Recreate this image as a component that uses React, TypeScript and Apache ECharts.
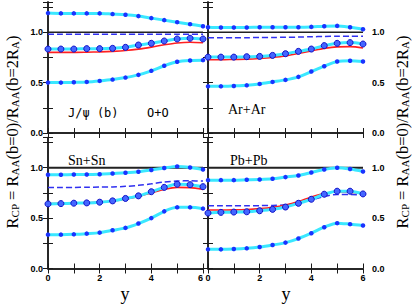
import React, { useEffect, useRef } from "react";
import * as echarts from "echarts";

const Y_POS = [0, 0.5, 1, 1.5, 2, 2.5, 3, 3.5, 4, 4.5, 5, 5.5, 6];

const OO_UPPER = [1.19, 1.187, 1.187, 1.187, 1.187, 1.18, 1.173, 1.16, 1.14, 1.12, 1.1, 1.08, 1.06];
const OO_MID = [0.833, 0.833, 0.833, 0.837, 0.837, 0.84, 0.85, 0.873, 0.89, 0.913, 0.933, 0.94, 0.933];
const OO_LOW = [0.5, 0.5, 0.503, 0.507, 0.517, 0.53, 0.55, 0.577, 0.617, 0.667, 0.707, 0.72, 0.723];
const OO_RED = [0.8, 0.8, 0.8, 0.802, 0.805, 0.81, 0.818, 0.832, 0.852, 0.875, 0.893, 0.9, 0.895];
const OO_DASH = [0.98, 0.98, 0.98, 0.98, 0.98, 0.98, 0.98, 0.98, 0.98, 0.98, 0.98, 0.98, 0.98];

const AR_UPPER = [1.05, 1.047, 1.047, 1.047, 1.05, 1.05, 1.05, 1.05, 1.053, 1.06, 1.063, 1.05, 1.03];
const AR_MID = [0.753, 0.753, 0.753, 0.757, 0.76, 0.77, 0.787, 0.81, 0.833, 0.867, 0.89, 0.897, 0.883];
const AR_LOW = [0.463, 0.463, 0.467, 0.473, 0.487, 0.507, 0.527, 0.557, 0.61, 0.663, 0.71, 0.717, 0.71];
const AR_RED = [0.727, 0.727, 0.73, 0.733, 0.74, 0.75, 0.765, 0.79, 0.815, 0.84, 0.855, 0.857, 0.843];
const AR_DASH = [0.945, 0.945, 0.945, 0.946, 0.947, 0.948, 0.95, 0.952, 0.955, 0.958, 0.96, 0.96, 0.96];

const SN_UPPER = [0.93, 0.93, 0.933, 0.933, 0.936, 0.943, 0.95, 0.96, 0.977, 0.997, 1.013, 1.003, 0.983];
const SN_MID = [0.641, 0.644, 0.648, 0.651, 0.658, 0.671, 0.695, 0.721, 0.762, 0.805, 0.836, 0.832, 0.812];
const SN_LOW = [0.336, 0.336, 0.339, 0.346, 0.356, 0.379, 0.403, 0.446, 0.5, 0.567, 0.607, 0.607, 0.594];
const SN_RED = [0.645, 0.645, 0.648, 0.652, 0.66, 0.67, 0.688, 0.715, 0.75, 0.785, 0.805, 0.803, 0.785];
const SN_DASH = [0.805, 0.805, 0.805, 0.806, 0.808, 0.81, 0.815, 0.825, 0.84, 0.858, 0.868, 0.87, 0.868];

const PB_UPPER = [0.877, 0.877, 0.877, 0.88, 0.883, 0.89, 0.907, 0.923, 0.953, 0.983, 1.0, 0.987, 0.963];
const PB_MID = [0.55, 0.557, 0.56, 0.563, 0.573, 0.587, 0.61, 0.647, 0.687, 0.737, 0.767, 0.767, 0.74];
const PB_LOW = [0.19, 0.19, 0.193, 0.2, 0.213, 0.233, 0.257, 0.297, 0.35, 0.41, 0.45, 0.44, 0.427];
const PB_RED = [0.58, 0.58, 0.582, 0.586, 0.594, 0.607, 0.63, 0.665, 0.71, 0.745, 0.762, 0.757, 0.74];
const PB_DASH = [0.623, 0.623, 0.623, 0.623, 0.624, 0.626, 0.632, 0.65, 0.68, 0.715, 0.735, 0.735, 0.728];

const REFERENCE = 1.0;

const PANELS = [
  { upper: OO_UPPER, mid: OO_MID, low: OO_LOW, red: OO_RED, dash: OO_DASH },
  { upper: AR_UPPER, mid: AR_MID, low: AR_LOW, red: AR_RED, dash: AR_DASH },
  { upper: SN_UPPER, mid: SN_MID, low: SN_LOW, red: SN_RED, dash: SN_DASH },
  { upper: PB_UPPER, mid: PB_MID, low: PB_LOW, red: PB_RED, dash: PB_DASH },
];

const GRIDS = [
  { left: 48, top: 2, width: 155, height: 131 },
  { left: 208, top: 2, width: 155, height: 131 },
  { left: 48, top: 137.5, width: 155, height: 131 },
  { left: 208, top: 137.5, width: 155, height: 131 },
];

const CYAN = "#3ae8ff";
const BLUE = "#1a33ff";
const AXIS_COLOR = "#1a1a1a";

export default function App() {
  const ref = useRef<HTMLDivElement>(null);
  useEffect(() => {
    document.body.style.margin = "0";
    if (!ref.current) return;
    const chart = echarts.init(ref.current, null, { renderer: "svg" });

    const labelFont = {
      fontSize: 9,
      fontWeight: "bold" as const,
      fontFamily: "Liberation Sans, Arial, sans-serif",
      color: "#000",
    };

    const xAxes: any[] = [];
    const yAxes: any[] = [];
    const series: any[] = [];
    const zip = (arr: number[]) => Y_POS.map((x, i) => [x, arr[i]]);

    GRIDS.forEach((_, gi) => {
      const isBottom = gi >= 2;
      const isRight = gi % 2 === 1;
      const baseX = {
        gridIndex: gi,
        type: "value",
        min: 0,
        max: 6,
        interval: 1,
        axisLine: { show: true, lineStyle: { color: AXIS_COLOR, width: 1.5 } },
        axisTick: { show: true, inside: true, length: 5, lineStyle: { color: AXIS_COLOR, width: 1 } },
        splitLine: { show: false },
      };
      xAxes.push({
        ...baseX,
        position: "bottom",
        axisLabel: {
          show: isBottom,
          ...labelFont,
          margin: 5,
          formatter: (v: number) => (v % 2 === 0 ? String(v) : ""),
          alignMaxLabel: isRight ? "center" : "right",
        },
      });
      xAxes.push({ ...baseX, position: "top", axisLabel: { show: false } });

      const baseY = {
        gridIndex: gi,
        type: "value",
        min: 0,
        max: 1.3,
        interval: 0.25,
        axisLine: { show: true, lineStyle: { color: AXIS_COLOR, width: 1.5 } },
        axisTick: { show: true, inside: true, length: 5, lineStyle: { color: AXIS_COLOR, width: 1 } },
        splitLine: { show: false },
      };
      const fmt = (v: number) =>
        Math.abs(v * 2 - Math.round(v * 2)) < 1e-6 ? v.toFixed(1) : "";
      yAxes.push({
        ...baseY,
        position: "left",
        axisLabel: { show: !isRight, ...labelFont, margin: 5, formatter: fmt },
      });
      yAxes.push({
        ...baseY,
        position: "right",
        axisLabel: { show: isRight, ...labelFont, margin: 9, formatter: fmt },
      });

      const p = PANELS[gi];
      const xi = gi * 2;
      const yi = gi * 2;
      series.push({
        type: "line",
        xAxisIndex: xi,
        yAxisIndex: yi,
        data: Y_POS.map((x) => [x, REFERENCE]),
        symbol: "none",
        lineStyle: { color: "#222", width: isBottom ? 1.8 : 1.3 },
        z: 1,
      });
      series.push({
        type: "line",
        xAxisIndex: xi,
        yAxisIndex: yi,
        data: zip(p.dash),
        smooth: 0.3,
        symbol: "none",
        lineStyle: { color: "#3030f0", width: 1.5, type: [6, 3] },
        z: 2,
      });
      series.push({
        type: "line",
        xAxisIndex: xi,
        yAxisIndex: yi,
        data: zip(p.red),
        smooth: 0.3,
        symbol: "none",
        lineStyle: { color: "#ff2020", width: 1.6 },
        z: 3,
      });
      [p.upper, p.low].forEach((arr) => {
        series.push({
          type: "line",
          xAxisIndex: xi,
          yAxisIndex: yi,
          data: zip(arr),
          smooth: 0.3,
          symbol: "circle",
          symbolSize: 4.5,
          showAllSymbol: true,
          itemStyle: { color: BLUE, borderWidth: 0 },
          lineStyle: { color: CYAN, width: 3 },
          z: 4,
        });
      });
      series.push({
        type: "line",
        xAxisIndex: xi,
        yAxisIndex: yi,
        data: zip(p.mid),
        smooth: 0.3,
        symbol: "circle",
        symbolSize: 6,
        showAllSymbol: true,
        itemStyle: { color: "#4466ff", borderColor: "#1010c8", borderWidth: 1 },
        lineStyle: { color: CYAN, width: 3 },
        z: 4,
      });
    });

    const serif = "Liberation Serif, Times New Roman, serif";
    const rich = {
      r: { fontSize: 16.5, fontFamily: serif, color: "#000", lineHeight: 17, verticalAlign: "middle" },
      s: {
        fontSize: 11,
        fontFamily: serif,
        color: "#000",
        lineHeight: 11,
        padding: [10, 0, 0, 0],
        verticalAlign: "bottom",
      },
    };
    const titleText =
      "{r|R}{s|CP}{r| = R}{s|AA}{r|(b=0)/R}{s|AA}{r|(b=2R}{s|A}{r|)}";

    const graphic: any[] = [
      {
        type: "text",
        x: 68,
        y: 113,
        style: {
          text: "J/\u03c8 (b)",
          font: "12px DejaVu Sans Mono",
          fill: "#000",
          verticalAlign: "middle",
        },
      },
      {
        type: "text",
        x: 147,
        y: 113,
        style: { text: "O+O", font: "12px DejaVu Sans Mono", fill: "#000", verticalAlign: "middle" },
      },
      {
        type: "text",
        x: 228,
        y: 109,
        style: { text: "Ar+Ar", font: `14px ${serif}`, fill: "#000", verticalAlign: "middle" },
      },
      {
        type: "text",
        x: 68,
        y: 160,
        style: { text: "Sn+Sn", font: `14px ${serif}`, fill: "#000", verticalAlign: "middle" },
      },
      {
        type: "text",
        x: 230,
        y: 160,
        style: { text: "Pb+Pb", font: `14px ${serif}`, fill: "#000", verticalAlign: "middle" },
      },
      {
        type: "text",
        x: 125,
        y: 294,
        style: { text: "y", font: `18px ${serif}`, fill: "#000", align: "center", verticalAlign: "middle" },
      },
      {
        type: "text",
        x: 286,
        y: 294,
        style: { text: "y", font: `18px ${serif}`, fill: "#000", align: "center", verticalAlign: "middle" },
      },
      {
        type: "text",
        x: 12,
        y: 132,
        rotation: Math.PI / 2,
        style: { text: titleText, rich, align: "center", verticalAlign: "middle" },
      },
      {
        type: "text",
        x: 402,
        y: 132,
        rotation: Math.PI / 2,
        style: { text: titleText, rich, align: "center", verticalAlign: "middle" },
      },
    ];

    chart.setOption({
      animation: false,
      backgroundColor: "#fff",
      grid: GRIDS.map((g) => ({ ...g, containLabel: false })),
      xAxis: xAxes,
      yAxis: yAxes,
      series,
      graphic,
    });
    return () => chart.dispose();
  }, []);
  return <div ref={ref} style={{ width: 415, height: 306 }} />;
}
